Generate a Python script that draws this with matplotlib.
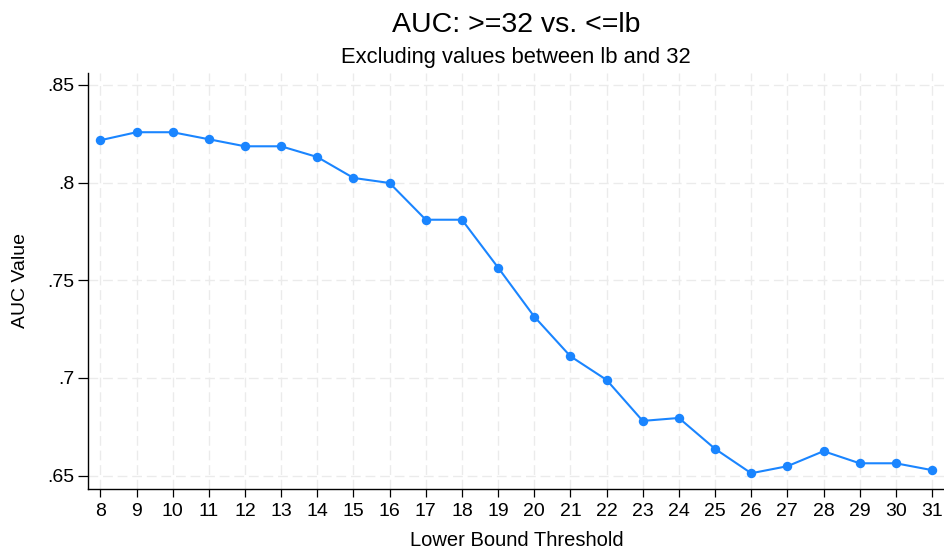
import matplotlib
matplotlib.use("Agg")
import matplotlib.pyplot as plt

# Lower bound thresholds and the AUC obtained at each one
thresholds = list(range(8, 32))
auc_values = [0.8217, 0.8258, 0.8258, 0.8222, 0.8186, 0.8186, 0.8131, 0.8024,
              0.7998, 0.7810, 0.7810, 0.7565, 0.7314, 0.7111, 0.6990, 0.6780,
              0.6795, 0.6637, 0.6512, 0.6548, 0.6625, 0.6563, 0.6563, 0.6528]
y_ticks = [0.65, 0.70, 0.75, 0.80, 0.85]
y_tick_labels = [".65", ".7", ".75", ".8", ".85"]

plt.rcParams["font.family"] = ["Liberation Sans", "DejaVu Sans"]

W, H = 945, 550
fig = plt.figure(figsize=(W / 100, H / 100), dpi=100)
ax = fig.add_axes([0.0928, 0.1115, 0.9072, 0.7564])

blue = "#1A85FF"
ax.plot(thresholds, auc_values, color=blue, linewidth=1.5, marker="o",
        markersize=6.8, markeredgewidth=0, zorder=3)

ax.set_xlim(7.65, 31.36)
ax.set_ylim(0.6433, 0.8563)
ax.set_xticks(thresholds)
ax.set_xticklabels([str(t) for t in thresholds])
ax.set_yticks(y_ticks)
ax.set_yticklabels(y_tick_labels)

# Light dashed grid on every tick
grid_color = "#EBEBEB"
for t in thresholds:
    ax.axvline(t, color=grid_color, linewidth=1.0, dashes=(7, 3.5), zorder=1)
for v in y_ticks:
    ax.axhline(v, color=grid_color, linewidth=1.0, dashes=(7, 3.5), zorder=1)

for side in ("top", "right"):
    ax.spines[side].set_visible(False)
for side in ("left", "bottom"):
    ax.spines[side].set_linewidth(1.0)
    ax.spines[side].set_color("#000000")

ax.tick_params(axis="both", direction="out", width=0.9,
               labelsize=14, colors="#000000")
ax.tick_params(axis="x", length=5.8, pad=4.5)
ax.tick_params(axis="y", length=7.2, pad=2.5)

# Axis titles
fig.text(0.5 * (0.0928 + 1.0), 1 - 546 / H, "Lower Bound Threshold",
         ha="center", va="baseline", fontsize=14.5)
fig.text(21 / W, 1 - 281 / H, "AUC Value", rotation=90,
         ha="center", va="center", fontsize=14)

cx = (0.0928 + 1.0) / 2
fig.text(cx, 1 - 32.3 / H, "AUC: >=32 vs. <=lb", ha="center", va="baseline",
         fontsize=20.5)
fig.text(cx, 1 - 63.3 / H, "Excluding values between lb and 32", ha="center",
         va="baseline", fontsize=15.8)

fig.savefig("out.png", dpi=100)
